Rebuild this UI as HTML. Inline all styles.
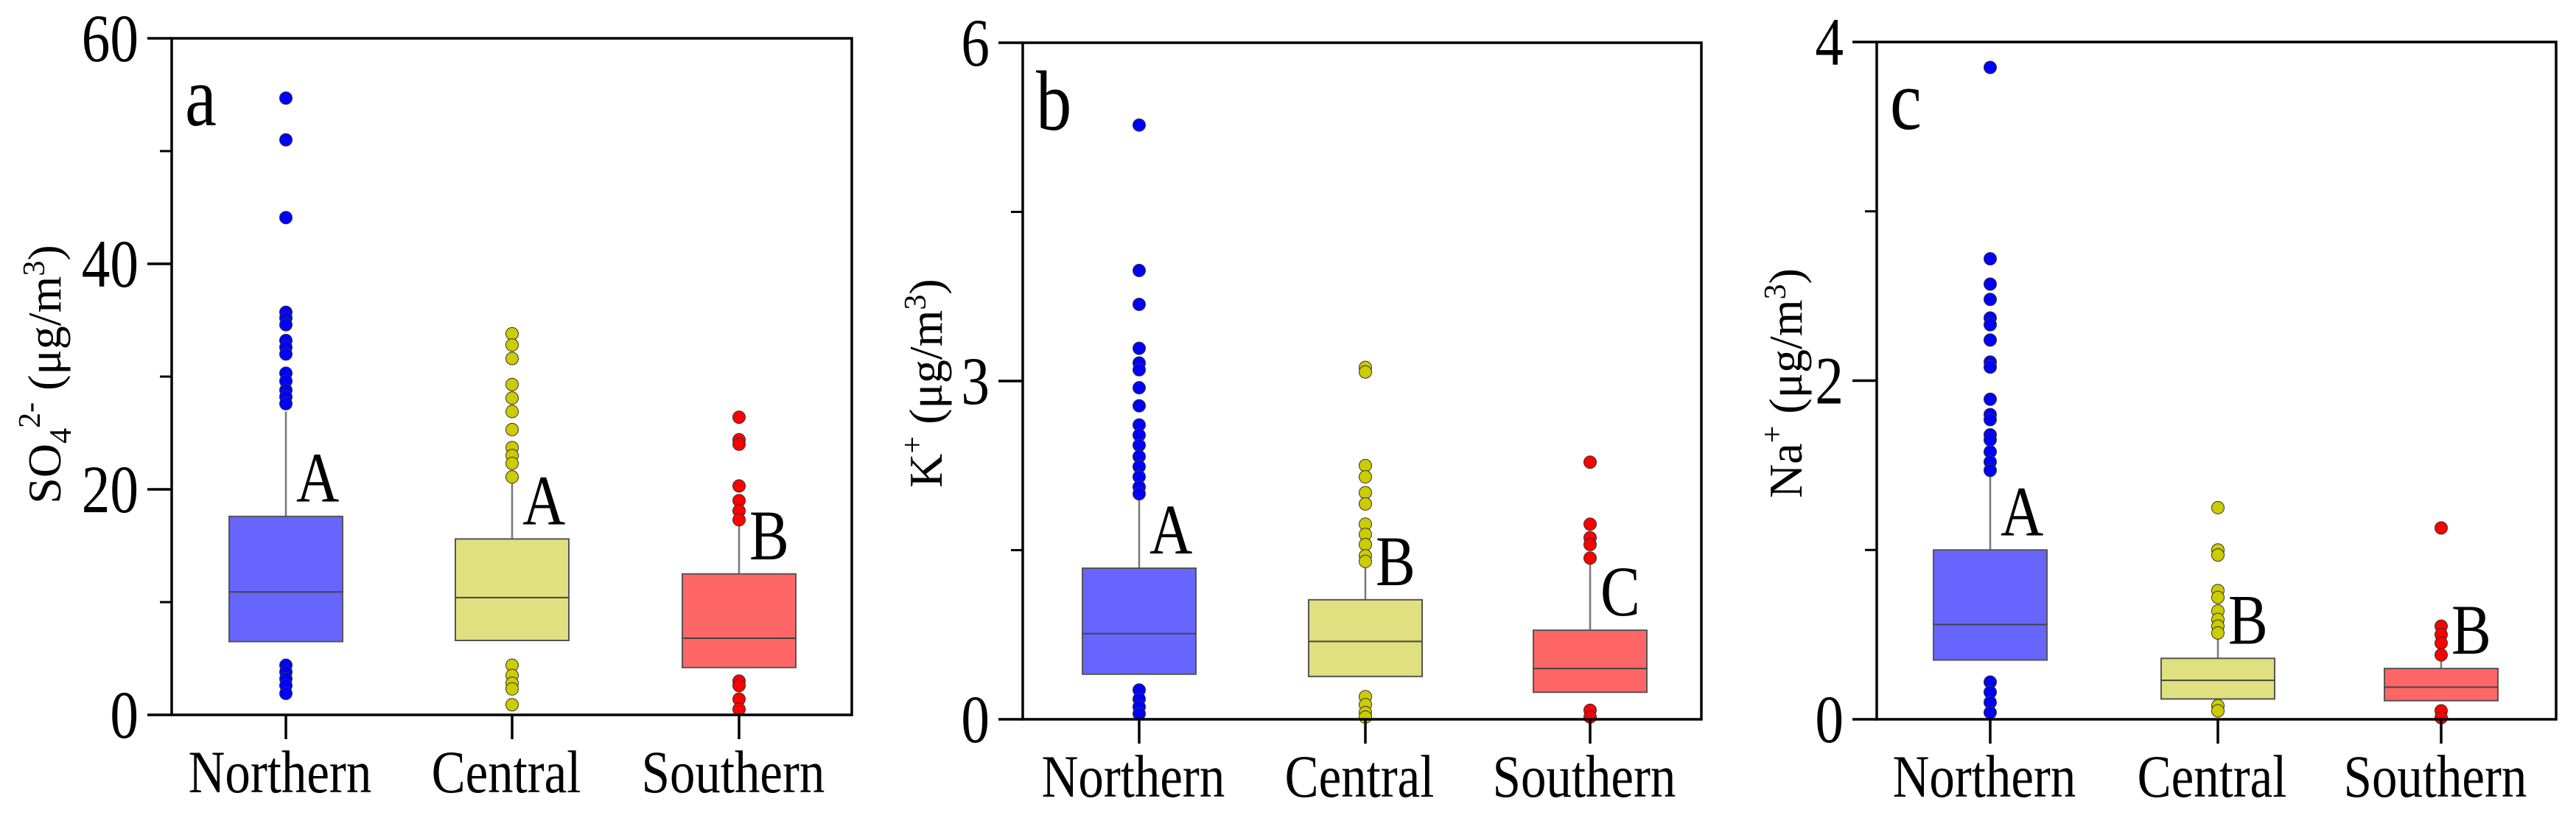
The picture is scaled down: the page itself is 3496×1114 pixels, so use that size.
<!DOCTYPE html>
<html><head><meta charset="utf-8">
<style>
html,body{margin:0;padding:0;background:#fff;}
svg{display:block;}
text{font-family:"Liberation Serif","DejaVu Serif",serif;}
</style></head>
<body>
<svg id="chart" width="3496" height="1114" viewBox="0 0 3496 1114" xmlns="http://www.w3.org/2000/svg"></svg>
<script>
const categories = ["Northern","Central","Southern"];
const panelLetters = ["a","b","c"];
const yMax = [60, 6, 4];
const yTicks = [[0,20,40,60],[0,3,6],[0,2,4]];
const yMinor = [[10,30,50],[1.5,4.5],[1,3]];
const sigLetters = [["A","A","B"],["A","B","C"],["A","B","B"]];
// [q1, median, q3, whiskerTop]
const statsA = [[6.5,10.9,17.6,26.9],[6.6,10.4,15.6,21.1],[4.2,6.8,12.5,17.4]];
const statsB = [[0.40,0.76,1.34,1.99],[0.38,0.69,1.06,1.36],[0.24,0.45,0.79,1.43]];
const statsC = [[0.35,0.56,1.0,1.47],[0.12,0.23,0.36,0.5],[0.11,0.19,0.30,0.38]];
const outA = [
 [54.7,51,44.1,35.7,35.2,34.6,33.2,32.6,32,30.3,29.6,28.8,28.2,27.6,4.4,3.8,3.2,2.6,1.9],
 [33.8,32.8,31.6,29.3,28.1,26.9,25.3,23.7,23,22.3,21.1,4.4,3.5,2.8,2.3,0.9],
 [26.4,24.4,24,20.3,19,18.1,17.3,3,2.6,1.4,0.5]];
const outB = [
 [5.27,3.98,3.68,3.29,3.16,3.1,2.94,2.78,2.61,2.52,2.43,2.33,2.24,2.15,2.06,2.0,0.26,0.18,0.11,0.05],
 [3.12,3.08,2.25,2.15,2.01,1.91,1.73,1.64,1.55,1.45,1.4,0.2,0.13,0.06,0.02],
 [2.28,1.73,1.61,1.55,1.43,0.08,0.02]];
const outC = [
 [3.85,2.72,2.57,2.48,2.37,2.33,2.24,2.11,2.08,1.89,1.8,1.77,1.68,1.65,1.58,1.52,1.47,0.22,0.16,0.1,0.04],
 [1.25,1.0,0.97,0.76,0.72,0.64,0.59,0.55,0.51,0.08,0.05],
 [1.13,0.55,0.5,0.45,0.38,0.05,0.01]];

const panels = [
 {left:233,right:1156,top:52,bottom:970,cats:[388,695,1003],titleX:62,titleY:508,stats:statsA,out:outA,
  title:'SO<tspan dy="14" font-size="42">4</tspan><tspan dy="-42" font-size="42">2-</tspan><tspan dy="28">  (μg/m</tspan><tspan dy="-22" font-size="42">3</tspan><tspan dy="22">)</tspan>'},
 {left:1388,right:2309,top:58,bottom:976,cats:[1546,1853,2158],titleX:1258,titleY:520,stats:statsB,out:outB,
  title:'K<tspan dy="-26" font-size="42">+</tspan><tspan dy="26">  (μg/m</tspan><tspan dy="-22" font-size="42">3</tspan><tspan dy="22">)</tspan>'},
 {left:2547,right:3469,top:57,bottom:976,cats:[2701,3010,3313],titleX:2425,titleY:520,stats:statsC,out:outC,
  title:'Na<tspan dy="-26" font-size="42">+</tspan><tspan dy="26">  (μg/m</tspan><tspan dy="-22" font-size="42">3</tspan><tspan dy="22">)</tspan>'}
];
const fills = ["#6666ff","#e0e080","#ff6666"];
const dotFill = ["#0000ff","#cccc00","#ff0000"];
const svg = document.getElementById('chart');
const NS = "http://www.w3.org/2000/svg";
const FF = '"Liberation Serif","DejaVu Serif",serif';
const SX = 0.84;
function mk(tag, attrs, parent){
  const e = document.createElementNS(NS, tag);
  for (const k in attrs) e.setAttribute(k, attrs[k]);
  if (tag === 'text') e.setAttribute('font-family', FF);
  (parent||svg).appendChild(e);
  return e;
}
function txt(x, y, attrs, parent){
  attrs.x = 0; attrs.y = 0;
  attrs.transform = 'translate(' + x + ',' + y + ') scale(' + SX + ',1)';
  return mk('text', attrs, parent);
}
panels.forEach((p, pi) => {
  const g = mk('g', {});
  
  
  const y = v => p.bottom - v / yMax[pi] * (p.bottom - p.top);
  const hw = 77;
  categories.forEach((c, ci) => {
    const s = p.stats[ci], x = p.cats[ci];
    const wl = mk('line', {x1:x, x2:x, y1:y(s[2]), y2:y(s[3]), stroke:'#777', 'stroke-width':2.5}, g);
    
    
    const r = mk('rect', {x:x-hw, y:y(s[2]), width:hw*2, height:y(s[0])-y(s[2]), fill:fills[ci], stroke:'#555', 'stroke-width':2}, g);
    
    
    const m = mk('line', {x1:x-hw, x2:x+hw, y1:y(s[1]), y2:y(s[1]), stroke:'#444', 'stroke-width':2}, g);
    
    
    p.out[ci].forEach(v => {
      const d = mk('circle', {cx:x, cy:y(v), r:8.5, fill:dotFill[ci], stroke:'#333', 'stroke-width':1}, g);
      
      
    });
    const sl = txt(x+14, y(s[2])-20, {'font-size':96, fill:'#000'}, g);
    sl.textContent = sigLetters[pi][ci];
    
    
    const t = mk('line', {x1:x, x2:x, y1:p.bottom, y2:p.bottom+33, stroke:'#000', 'stroke-width':3.5}, g);
    
    
    const lab = txt(x-8, p.bottom+105, {'font-size':82, 'text-anchor':'middle', fill:'#000'}, g);
    lab.textContent = c;
    
    
  });
  const frame = mk('rect', {x:p.left, y:p.top, width:p.right-p.left, height:p.bottom-p.top, fill:'none', stroke:'#000', 'stroke-width':3.5}, g);
  
  
  yTicks[pi].forEach(v => {
    const t = mk('line', {x1:p.left-33, x2:p.left, y1:y(v), y2:y(v), stroke:'#000', 'stroke-width':3.5}, g);
    
    
    const l = txt(p.left-45, y(v)+31, {'font-size':92, 'text-anchor':'end', fill:'#000'}, g);
    l.textContent = v;
    
    
  });
  yMinor[pi].forEach(v => {
    const t = mk('line', {x1:p.left-16, x2:p.left, y1:y(v), y2:y(v), stroke:'#000', 'stroke-width':3}, g);
    
    
  });
  const pl = txt(p.left+18, p.top+118, {'font-size':115, fill:'#000'}, g);
  pl.textContent = panelLetters[pi];
  
  
  const tt = mk('text', {x:0, y:0, 'font-size':64, 'text-anchor':'middle', fill:'#000',
     transform:'translate(' + (p.titleX+20) + ',' + p.titleY + ') rotate(-90)'}, g);
  tt.innerHTML = p.title;
  
  
});
</script>
</body></html>
